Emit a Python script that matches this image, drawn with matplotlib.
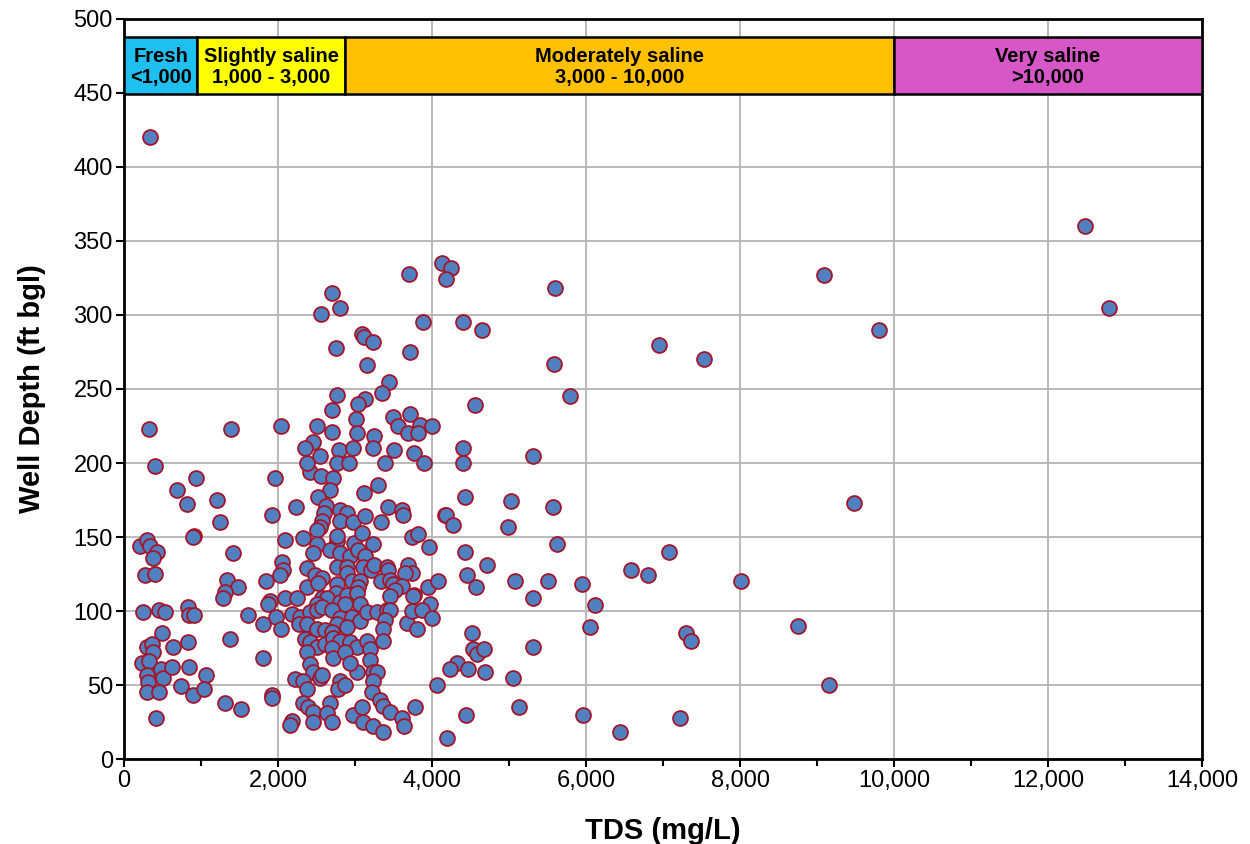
import matplotlib.pyplot as plt
from matplotlib.patches import Rectangle
from matplotlib.ticker import MultipleLocator, FuncFormatter

plt.rcParams['font.family'] = ['Liberation Sans', 'DejaVu Sans']

# TDS (mg/L) of each well
tds = [
    338, 325, 1390,
    403, 935, 688, 818, 1208, 1247, 1955, 1922, 909, 896, 2234,
    208, 299, 338, 429, 377, 273, 403, 1416, 1338, 1481, 1312, 1286,
    1844, 1896, 1870, 247, 455, 532, 831, 844, 909, 1611, 1805, 1974,
    2039, 494, 299, 364, 377, 636, 831, 1377, 234, 325, 481, 507, 623,
    844, 1065, 1805, 299, 312, 299, 455, 740, 896, 1039, 1312, 1520,
    1922, 1922, 416, 2182, 2156,
    2416, 2559, 2715, 2676, 2520, 3299, 3118, 2624, 2598, 2572, 2546,
    2507, 2806, 2897, 2806, 2975, 3130, 3338, 3429, 3611, 3624, 4170,
    2091, 2325, 2507, 2455, 2767, 2767, 2676, 2806, 2936, 2988, 3040,
    3092, 3234, 3130, 3741, 3819, 3962, 2052, 2065, 2026, 2377, 2767,
    2897, 2897, 3104, 3208, 3247, 3416, 3429, 3689, 3741, 3650, 2377,
    2481, 2572, 2520, 2767, 2754, 2962, 3066, 3040, 3338, 3455, 3494,
    3611, 3520, 3767, 3949, 4079, 2091, 2247, 2572, 2637, 2507, 2806,
    2897, 2871, 3027, 3066, 3455, 3754, 3975,
    2182, 2286, 2416, 2507, 2273, 2377, 2572, 2702, 2806, 2962, 3066,
    2767, 2897, 2507, 2611, 2702, 3157, 3286, 3416, 3455, 3390, 3364,
    3676, 3806, 3741, 3871, 4000, 2351, 2416, 2507, 2377, 2611, 2715,
    2806, 2702, 2715, 2936, 3027, 2871, 3157, 3195, 3195, 3234, 3364,
    2416, 2455, 2546, 2572, 2221, 2325, 2377, 2806, 2780, 2871, 3027,
    3286, 3234, 3221, 2936, 2325, 2390, 2455, 2676, 2637, 2702, 2975,
    3092, 3104, 2455, 3234, 3364, 3325, 3364, 3455, 3611, 3637, 3780,
    4066, 4196,
    2702, 2806, 2559, 3702, 3092, 3118, 3234, 2754, 3715, 3157, 3442,
    2767, 3131, 3040, 3351, 2702, 3014, 3494, 3715, 2039, 2507, 2702,
    3027, 3247, 3559, 3689, 3845, 4000, 3819, 3884, 2455, 2351, 2546,
    2793, 2975, 3234, 3507, 3767, 2377, 2767, 2923, 3390, 3897,
    4130, 4247, 4183, 5598, 4403, 4650, 5585, 5792, 4559, 4403, 4403,
    5312, 4429, 5026, 5571, 4183, 4273, 4987, 5624, 4429, 4714, 4455,
    5078, 5507, 5948, 4571, 5312, 6117, 6052, 4520, 4533, 4585, 4675,
    4325, 4234, 4468, 4688, 5312, 5052, 4442, 5130, 5961, 6442,
    9089, 12797, 9808, 6943, 7537, 9483, 7073, 6585, 6805, 8009, 7305,
    7360, 8755, 9159, 7215, 12484,
]

# well depth (ft bgl), same order as tds
depth = [
    420, 223, 223,
    198, 190, 182, 172, 175, 160, 190, 165, 151, 150, 170,
    144, 148, 144, 140, 136, 124, 125, 139, 121, 116, 113, 109,
    120, 107, 105, 99, 101, 99, 103, 97, 97, 97, 91, 96,
    88, 85, 76, 78, 72, 76, 79, 81, 65, 66, 61, 55, 62,
    62, 57, 68, 57, 52, 45, 45, 49, 43, 47, 38, 34,
    43, 41, 28, 26, 23,
    194, 191, 190, 182, 177, 185, 180, 171, 166, 161, 157,
    155, 168, 166, 161, 160, 164, 160, 170, 168, 165, 165,
    148, 149, 145, 139, 147, 151, 141, 139, 137, 146, 141,
    153, 145, 137, 150, 152, 143, 133, 128, 124, 129, 130,
    130, 126, 130, 128, 131, 130, 128, 131, 126, 126, 116,
    124, 122, 119, 118, 112, 120, 120, 116, 120, 121, 118,
    117, 114, 111, 116, 120, 109, 109, 109, 109, 105, 106,
    111, 105, 112, 105, 110, 110, 105,
    98, 96, 99, 101, 91, 91, 103, 101, 95, 96, 93,
    91, 89, 88, 87, 86, 99, 99, 101, 101, 94, 88,
    92, 88, 100, 101, 95, 81, 79, 76, 72, 78, 82,
    80, 75, 68, 79, 76, 72, 80, 74, 67, 59, 80,
    64, 59, 55, 57, 54, 53, 47, 53, 47, 50, 59,
    59, 53, 45, 65, 38, 35, 32, 38, 31, 25, 30,
    35, 25, 25, 22, 18, 40, 36, 32, 28, 22, 35,
    50, 14,
    315, 305, 301, 328, 287, 285, 282, 278, 275, 266, 255,
    246, 243, 240, 247, 236, 230, 231, 233, 225, 225, 221,
    220, 218, 225, 220, 226, 225, 220, 295, 214, 210, 205,
    209, 210, 210, 209, 207, 200, 200, 200, 200, 200,
    335, 332, 324, 318, 295, 290, 267, 245, 239, 210, 200,
    205, 177, 174, 170, 165, 158, 157, 145, 140, 131, 124,
    120, 120, 118, 116, 109, 104, 89, 85, 74, 71, 74,
    65, 61, 61, 59, 76, 55, 30, 35, 30, 18,
    327, 305, 290, 280, 270, 173, 140, 128, 124, 120, 85,
    80, 90, 50, 28, 360,
]

# salinity classes shown as a header band
class_labels = ['Fresh\n<1,000', 'Slightly saline\n1,000 - 3,000',
                'Moderately saline\n3,000 - 10,000', 'Very saline\n>10,000']
class_edges = [0, 950, 2870, 10000, 14000]
class_colors = ['#1FBFEF', '#FFFF00', '#FFC000', '#D857C8']
band_bottom, band_top = 449, 488

fig = plt.figure(figsize=(12.5, 8.44), dpi=100)
ax = fig.add_axes([0.0992, 0.1007, 0.8624, 0.8768])

ax.set_xlim(0, 14000)
ax.set_ylim(0, 500)
ax.xaxis.set_major_locator(MultipleLocator(2000))
ax.xaxis.set_minor_locator(MultipleLocator(1000))
ax.yaxis.set_major_locator(MultipleLocator(50))
ax.xaxis.set_major_formatter(FuncFormatter(lambda v, p: f'{int(v):,}'))
ax.grid(True, which='major', color='#b4b4b4', linewidth=1.3, zorder=0)
ax.set_axisbelow(True)

ax.scatter(tds, depth, s=115, facecolor='#5080C0', edgecolor='#A3162B',
           linewidth=1.3, zorder=3)

for i, lab in enumerate(class_labels):
    x0, x1 = class_edges[i], class_edges[i + 1]
    ax.add_patch(Rectangle((x0, band_bottom), x1 - x0, band_top - band_bottom,
                           facecolor=class_colors[i], edgecolor='black',
                           linewidth=1.8, zorder=4))
    ax.text((x0 + x1) / 2, (band_bottom + band_top) / 2 - 1, lab,
            ha='center', va='center', fontsize=14.5, fontweight='bold',
            linespacing=1.1, zorder=5)

for side in ['top', 'right', 'left', 'bottom']:
    ax.spines[side].set_linewidth(2)
ax.tick_params(axis='both', which='major', labelsize=17, length=6,
               width=1.5, direction='out', pad=2)
ax.tick_params(axis='x', which='minor', length=5, width=1.5, direction='out')

ax.set_xlabel('TDS (mg/L)', fontsize=21, fontweight='bold', labelpad=18)
ax.set_ylabel('Well Depth (ft bgl)', fontsize=21, fontweight='bold', labelpad=20)

fig.savefig('out.png', dpi=100)
